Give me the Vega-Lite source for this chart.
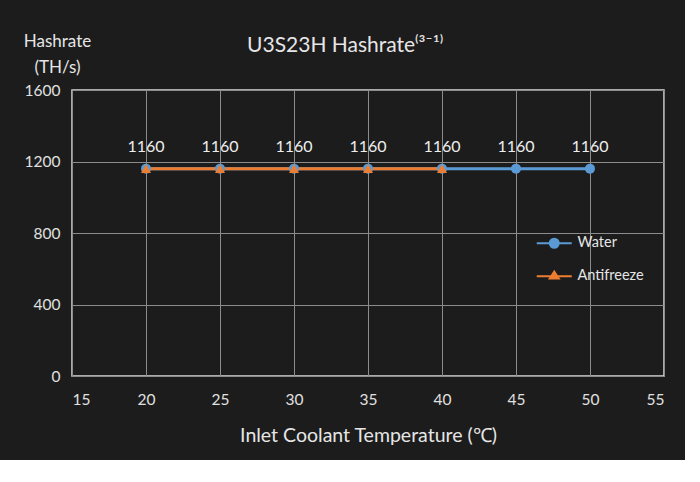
{
  "$schema": "https://vega.github.io/schema/vega-lite/v6.json",
  "autosize": {"type": "none"},
  "width": 592,
  "height": 286,
  "padding": {"left": 72, "top": 90, "right": 21, "bottom": 84},
  "background": "#1c1c1c",
  "title": {
    "text": "U3S23H Hashrate⁽³⁻¹⁾",
    "color": "#e6e6e6",
    "font": "Lato",
    "fontSize": 21,
    "fontWeight": "normal",
    "anchor": "start",
    "frame": "group",
    "dx": 175,
    "offset": -24
  },
  "config": {
    "font": "Lato",
    "view": {"stroke": "#d9d9d9", "strokeWidth": 1.5},
    "axis": {
      "gridColor": "#8c8c8c",
      "gridWidth": 1,
      "domain": false,
      "ticks": false,
      "labelColor": "#e0e0e0",
      "labelFontSize": 15.5,
      "titleColor": "#e6e6e6",
      "titleFontWeight": "normal"
    },
    "legend": {
      "orient": "none",
      "legendX": 475,
      "legendY": 146,
      "title": null,
      "padding": 0,
      "symbolSize": 100,
      "symbolStrokeWidth": 2,
      "labelOffset": 16,
      "labelColor": "#e6e6e6",
      "labelFontSize": 14.5,
      "rowPadding": 15
    }
  },
  "data": {
    "values": [
      {"series": "Water", "temp": 20, "hashrate": 1160},
      {"series": "Water", "temp": 25, "hashrate": 1160},
      {"series": "Water", "temp": 30, "hashrate": 1160},
      {"series": "Water", "temp": 35, "hashrate": 1160},
      {"series": "Water", "temp": 40, "hashrate": 1160},
      {"series": "Water", "temp": 45, "hashrate": 1160},
      {"series": "Water", "temp": 50, "hashrate": 1160},
      {"series": "Antifreeze", "temp": 20, "hashrate": 1160},
      {"series": "Antifreeze", "temp": 25, "hashrate": 1160},
      {"series": "Antifreeze", "temp": 30, "hashrate": 1160},
      {"series": "Antifreeze", "temp": 35, "hashrate": 1160},
      {"series": "Antifreeze", "temp": 40, "hashrate": 1160}
    ]
  },
  "encoding": {
    "x": {
      "field": "temp",
      "type": "quantitative",
      "scale": {"domain": [15, 55], "nice": false, "zero": false},
      "axis": {
        "values": [15, 20, 25, 30, 35, 40, 45, 50, 55],
        "labelPadding": 16,
        "title": "Inlet Coolant Temperature (℃)",
        "titleFontSize": 19.5,
        "titlePadding": 19
      }
    },
    "y": {
      "field": "hashrate",
      "type": "quantitative",
      "scale": {"domain": [0, 1600], "nice": false},
      "axis": {
        "values": [0, 400, 800, 1200, 1600],
        "format": "d",
        "labelPadding": 12,
        "title": ["Hashrate", "(TH/s)"],
        "titleAngle": 0,
        "titleAlign": "center",
        "titleBaseline": "alphabetic",
        "titleX": -15,
        "titleY": -44,
        "titleFontSize": 17,
        "titleLineHeight": 26
      }
    }
  },
  "layer": [
    {
      "transform": [{"filter": "datum.series === 'Water'"}],
      "mark": {"type": "line", "color": "#5b9bd5", "strokeWidth": 3}
    },
    {
      "transform": [{"filter": "datum.series === 'Antifreeze'"}],
      "mark": {"type": "line", "color": "#ed7d31", "strokeWidth": 3}
    },
    {
      "mark": {"type": "point", "filled": true, "opacity": 1, "size": 100},
      "encoding": {
        "color": {
          "field": "series",
          "type": "nominal",
          "scale": {"domain": ["Water", "Antifreeze"], "range": ["#5b9bd5", "#ed7d31"]},
          "legend": null
        },
        "shape": {
          "field": "series",
          "type": "nominal",
          "scale": {"domain": ["Water", "Antifreeze"], "range": ["circle", "triangle-up"]},
          "legend": null
        }
      }
    },
    {
      "transform": [{"filter": "false"}],
      "mark": {"type": "point", "opacity": 1, "size": 100, "strokeWidth": 2},
      "encoding": {
        "fill": {
          "field": "series",
          "type": "nominal",
          "scale": {"domain": ["Water", "Antifreeze"], "range": ["#5b9bd5", "#ed7d31"]}
        },
        "stroke": {
          "field": "series",
          "type": "nominal",
          "scale": {"domain": ["Water", "Antifreeze"], "range": ["#5b9bd5", "#ed7d31"]}
        },
        "shape": {
          "field": "series",
          "type": "nominal",
          "scale": {
            "domain": ["Water", "Antifreeze"],
            "range": [
              "M-3.5,0H3.5M-0.9,0A0.9,0.9 0 1,1 0.9,0A0.9,0.9 0 1,1 -0.9,0Z",
              "M-3.5,0H3.5M-0.9,0.45L0,-0.95L0.9,0.45Z"
            ]
          }
        }
      }
    },
    {
      "transform": [{"filter": "datum.series === 'Water'"}],
      "mark": {"type": "text", "baseline": "alphabetic", "dy": -17, "fontSize": 16, "color": "#eeeeee"},
      "encoding": {"text": {"field": "hashrate", "type": "quantitative"}}
    }
  ],
  "resolve": {"scale": {"shape": "independent", "fill": "independent", "stroke": "independent"}}
}
